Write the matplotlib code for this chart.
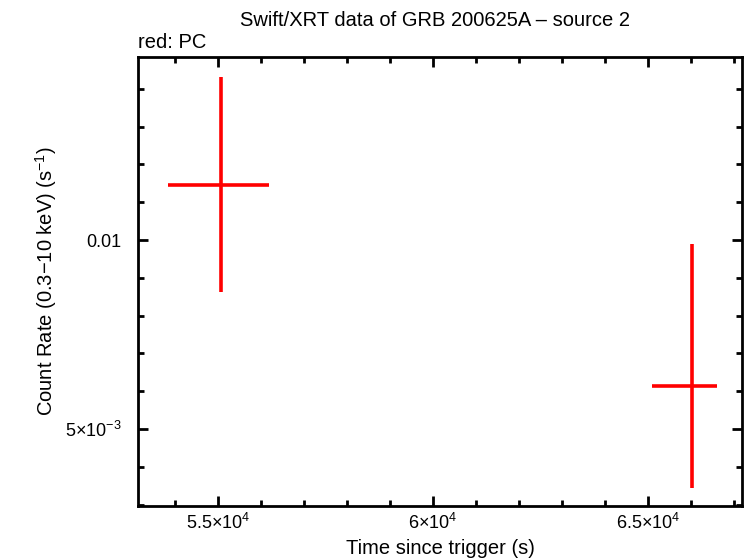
import matplotlib
matplotlib.use('Agg')
import matplotlib.pyplot as plt
import numpy as np
from matplotlib.ticker import FixedLocator, FixedFormatter

plt.rcParams.update({
    'font.family': 'Liberation Sans',
    'mathtext.fontset': 'custom',
    'mathtext.rm': 'Liberation Sans',
    'mathtext.it': 'Liberation Sans:italic',
    'mathtext.bf': 'Liberation Sans:bold',
})

# PC mode points
t_mid = [55070, 66020]
t_lo = [53840, 65090]
t_hi = [56190, 66600]
rate = [0.01224, 0.00585]
rate_lo = [0.00826, 0.00403]
rate_hi = [0.01818, 0.00986]

x_ticks = [55000, 60000, 65000]
x_labels = ['5.5\u00d710$^{4}$', '6\u00d710$^{4}$', '6.5\u00d710$^{4}$']
y_ticks = [0.005, 0.01]
y_labels = ['5\u00d710$^{-3}$', '0.01']

RED = '#ff0000'

fig = plt.figure(figsize=(7.46, 5.58), dpi=100)
ax = fig.add_axes([138 / 746, 1 - 506 / 558, 604 / 746, 449 / 558])

xerr = [np.array(t_mid) - np.array(t_lo), np.array(t_hi) - np.array(t_mid)]
yerr = [np.array(rate) - np.array(rate_lo), np.array(rate_hi) - np.array(rate)]
ax.errorbar(t_mid, rate, xerr=xerr, yerr=yerr, fmt='none', ecolor=RED,
            elinewidth=2.6, capsize=0)

ax.set_yscale('log')
ax.set_xlim(53140, 67190)
ax.set_ylim(0.003769, 0.01957)

ax.xaxis.set_major_locator(FixedLocator(x_ticks))
ax.xaxis.set_major_formatter(FixedFormatter(x_labels))
ax.xaxis.set_minor_locator(FixedLocator(np.arange(53000, 68000, 1000)))
ax.yaxis.set_major_locator(FixedLocator(y_ticks))
ax.yaxis.set_major_formatter(FixedFormatter(y_labels))
y_minor = [0.005 * 2 ** (k / 5) for k in range(-3, 11) if k % 5 != 0]
ax.yaxis.set_minor_locator(FixedLocator(y_minor))
ax.yaxis.set_minor_formatter(FixedFormatter([''] * len(y_minor)))

ax.tick_params(which='both', direction='in', top=True, right=True, width=2,
               labelsize=13)
ax.tick_params(axis='y', pad=12)
ax.tick_params(axis='x', pad=5)
ax.tick_params(which='major', length=7)
ax.tick_params(which='minor', length=4)
for s in ax.spines.values():
    s.set_linewidth(2)

ax.set_xlabel('Time since trigger (s)', fontsize=14.5, labelpad=4)
ax.set_ylabel(r'Count Rate (0.3$-$10 keV) (s$^{-1}$)', fontsize=14.5)
ax.yaxis.set_label_coords(-0.130, 0.5)
fig.text(0.5835, 1 - 20 / 558, 'Swift/XRT data of GRB 200625A \u2013 source 2',
         ha='center', va='center', fontsize=14.5)
fig.text(138 / 746, 1 - 43 / 558, 'red: PC', ha='left', va='center', fontsize=14.5)

fig.savefig('out.png', dpi=100)
